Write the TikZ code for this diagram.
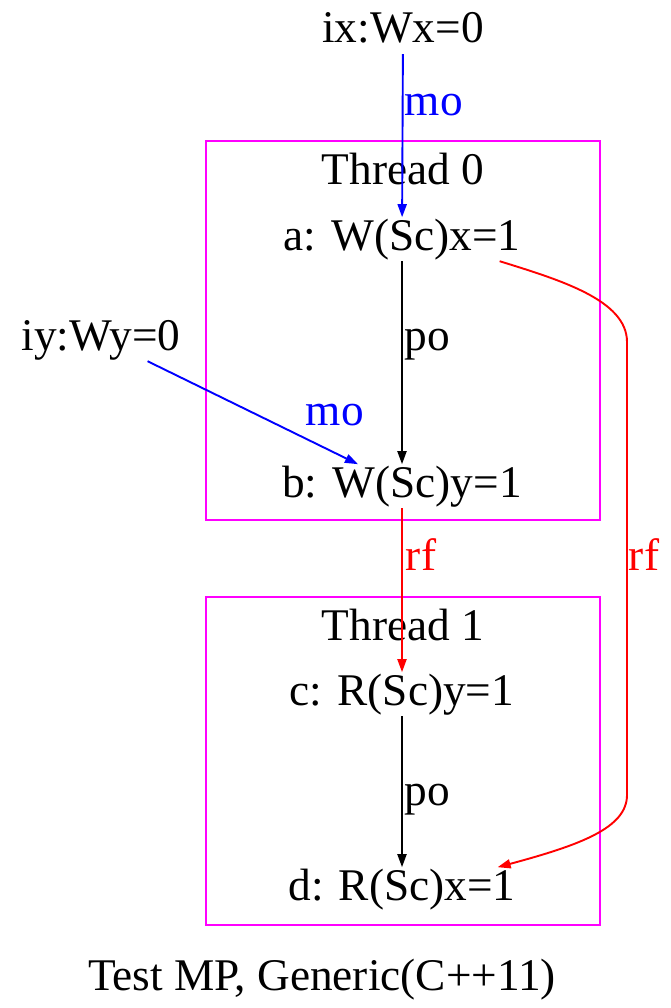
\documentclass[tikz,border=0pt]{standalone}
\usepackage{fontspec}
\setmainfont{Liberation Serif}
\usetikzlibrary{arrows.meta}
\definecolor{threadmag}{RGB}{255,0,255}
\definecolor{moblue}{RGB}{0,0,255}
\definecolor{rfred}{RGB}{255,0,0}

\begin{document}
\begin{tikzpicture}[x=1pt,y=-1pt,
  every node/.style={font=\fontsize{45.3}{54}\selectfont,inner sep=0pt},
  ev/.style={anchor=base,text height=32.6pt,text depth=11pt},
  lbl/.style={anchor=base west},
  edge/.style={line width=1.9pt,-{Triangle[length=13pt,width=9pt]}},
  threadbox/.style={draw=threadmag,line width=2pt}]
  \useasboundingbox (0,0) rectangle (670,1008);

  \draw[threadbox] (206,141) rectangle (600,520);
  \draw[threadbox] (206,597) rectangle (600,925);
  \node[anchor=base] (t0) at (403,185) {Thread 0};
  \node[anchor=base] (t1) at (403,640) {Thread 1};

  \node[ev] (ix) at (403,43) {ix:Wx=0};
  \node[ev] (iy) at (101,350) {iy:Wy=0};
  \node[ev] (a) at (402,250) {a: W(Sc)x=1};
  \node[ev] (b) at (402,497) {b: W(Sc)y=1};
  \node[ev] (c) at (402,705) {c: R(Sc)y=1};
  \node[ev] (d) at (402,900) {d: R(Sc)x=1};

  \draw[edge,moblue] (ix) -- (a) node[lbl] at (404,116) {mo};
  \draw[edge,moblue] ([xshift=-33pt]iy.south east) -- ([xshift=-44pt]b.north)
    node[lbl] at (305,425) {mo};
  \draw[edge] (a) -- (b) node[lbl] at (404,350) {po};
  \draw[edge,rfred] (b) -- (c) node[lbl] at (405,570) {rf};
  \draw[edge] (c) -- (d) node[lbl] at (404,805) {po};
  \draw[edge,rfred] ([xshift=-21pt]a.south east) .. controls (560,280) and (627,300) .. (627,342)
    -- (627,795) node[lbl] at (628,570) {rf}
    .. controls (627,828) and (580,845) .. ([xshift=-18pt]d.north east);

  \node[anchor=base] (cap) at (322,990) {Test MP, Generic(C++11)};
\end{tikzpicture}
\end{document}
